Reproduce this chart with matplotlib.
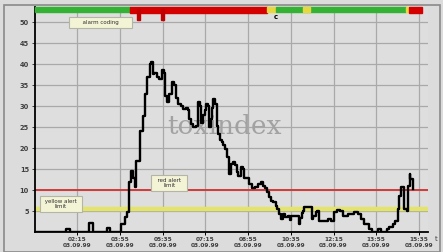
import numpy as np
import matplotlib
matplotlib.use("Agg")
import matplotlib.pyplot as plt
from matplotlib.patches import Rectangle
import matplotlib.transforms as mtransforms

# measured values, time in minutes since midnight
minutes = [36, 109, 117, 163, 172, 205, 212, 238, 247, 252, 256, 261, 266, 270, 273,
           282, 289, 294, 299, 306, 308, 313, 315, 322, 327, 334, 339, 341, 346, 350,
           357, 362, 367, 371, 378, 383, 390, 395, 397, 402, 407, 414, 418, 422, 425,
           430, 434, 437, 441, 444, 448, 451, 453, 457, 463, 465, 470, 475, 477, 482,
           486, 491, 496, 500, 505, 510, 512, 519, 522, 526, 533, 538, 545, 552, 559,
           566, 570, 575, 580, 585, 589, 594, 601, 603, 608, 613, 617, 622, 629, 634,
           636, 643, 653, 657, 660, 664, 667, 678, 685, 688, 695, 697, 702, 714, 723,
           730, 735, 742, 750, 758, 770, 782, 793, 800, 807, 817, 824, 840, 847, 859,
           866, 875, 880, 887, 889, 894, 901, 908, 910, 913, 915, 920]
values = [0, 0.8, 0, 2.1, 0, 1, 0, 1.9, 3.6, 4.8, 12, 14.5, 13, 10.7, 17,
          24, 27.6, 33, 37, 40, 40.5, 37.6, 38, 37, 36.4, 38.6, 38, 32.4, 31, 33,
          35.7, 35, 32, 30.5, 30, 29.3, 29.6, 29, 27, 25.7, 25, 25.2, 31, 30, 26,
          28, 29, 30.4, 30, 25, 27, 29.6, 31.7, 30.5, 25.2, 23.3, 22, 21.4, 20.7, 19.8,
          18, 13.8, 16.2, 16.7, 16, 14.3, 13.3, 15.5, 15, 13, 12.8, 11.4, 10.5, 10.7, 11.4,
          11.9, 11, 10.5, 9.5, 8.3, 7.4, 7.1, 6.2, 5.5, 4.3, 3.1, 4.3, 3.6, 3.8, 2.8,
          3.8, 3.8, 1.9, 3.3, 4.5, 5, 6, 6, 3.1, 3.8, 4.8, 5, 2.6, 2.6, 3.1,
          2.6, 4.8, 5.2, 5, 3.8, 4.3, 4.8, 4.3, 3.1, 1.9, 0.7, 0, 0.7, 0, 0.7,
          1.2, 1.9, 2.6, 5.5, 8.6, 10.7, 5.5, 5, 11, 13.8, 12.6, 10.2]

tick_minutes = [135, 235, 335, 435, 535, 635, 735, 835, 935]
tick_times = ["02:15", "03:55", "05:35", "07:15", "08:55", "10:35", "12:15", "13:55", "15:35"]
tick_date = "03.09.99"

red_limit = 10
yellow_limit = 5.5

# alarm status bar: (start, end, colour)
status_start = [36, 259, 580, 601, 664, 905, 912]
status_end = [259, 580, 601, 905, 681, 912, 942]
status_color = ["#33b233", "#d40000", "#e8d840", "#33b233", "#e8d840", "#e8d840", "#d40000"]
alarm_marks = [278, 334]

fig = plt.figure(figsize=(4.43, 2.52), dpi=100, facecolor="#dcdcdc")
fig.patches.append(Rectangle((0.009, 0.0), 0.985, 0.98, transform=fig.transFigure,
                             fill=False, edgecolor="#8a8a8a", linewidth=1.2))
ax = fig.add_axes([0.078, 0.079, 0.888, 0.893], facecolor="#dedede")

ax.set_xlim(35, 956)
ax.set_ylim(0, 53.6)

ax.grid(True, color="#a9a9a9", linewidth=0.9)
ax.set_axisbelow(True)

ax.axhline(yellow_limit, color="#e4e46a", linewidth=3.2, zorder=2)
ax.axhline(red_limit, color="#d23a3a", linewidth=1.4, zorder=2)

ax.step(minutes, values, where="post", color="black", linewidth=1.7, zorder=4)

# status strip along the top
trans = mtransforms.blended_transform_factory(ax.transData, ax.transAxes)
for s, e, c in zip(status_start, status_end, status_color):
    h = 0.027 if c == "#d40000" else 0.022
    ax.add_patch(Rectangle((s, 1 - h), e - s, h, transform=trans, color=c,
                           clip_on=False, zorder=5))
for m in alarm_marks:
    ax.add_patch(Rectangle((m - 4, 0.942), 8, 0.05, transform=trans, color="#c00000",
                           clip_on=False, zorder=5))
ax.text(601, 0.955, "c", transform=trans, fontsize=5, fontweight="bold",
        ha="center", va="center", zorder=6)

box = dict(boxstyle="square,pad=0.55", facecolor="#f3f3d6", edgecolor="#b5b5a5", linewidth=0.8)
ax.text(97, 6.7, " yellow alert \nlimit", fontsize=4, ha="center", va="center",
        color="#303030", bbox=box, zorder=6)
ax.text(350, 11.7, "  red alert  \nlimit", fontsize=4, ha="center", va="center",
        color="#303030", bbox=box, zorder=6)
ax.text(189, 50, "      alarm coding      ", fontsize=4, ha="center", va="center",
        color="#303030", bbox=box, zorder=6)

ax.text(479, 25.2, "toxindex", fontsize=19, family="DejaVu Serif", color="#a2a2a2",
        ha="center", va="center", zorder=3)

ax.spines["top"].set_visible(False)
ax.spines["right"].set_visible(False)
ax.spines["left"].set_linewidth(1.3)
ax.spines["bottom"].set_linewidth(1.3)

ax.set_yticks(range(5, 55, 5))
ax.tick_params(axis="y", labelsize=4.8, colors="#404040", length=2.5, width=0.7, pad=1.5)
for lab in ax.get_yticklabels():
    lab.set_fontweight("bold")
ax.set_xticks(tick_minutes)
ax.set_xticklabels([t + "\n" + tick_date for t in tick_times], fontsize=4.2, color="#404040",
                   linespacing=1.3, fontweight="bold")
ax.tick_params(axis="x", length=2, width=0.7, pad=1.5)
fig.text(0.985, 0.05, "t", fontsize=5, color="#404040", ha="center", va="center")

fig.savefig("out.png", dpi=100, facecolor=fig.get_facecolor())
